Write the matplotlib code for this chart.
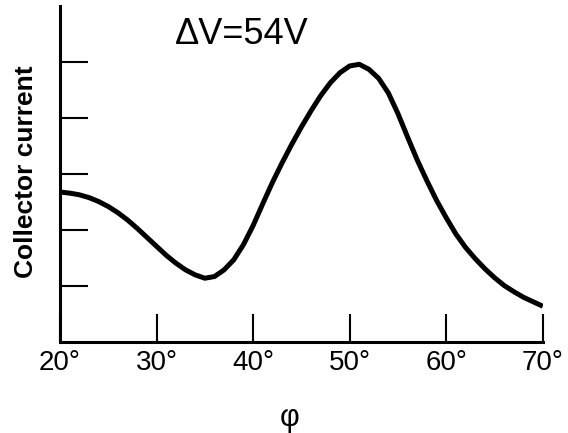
import numpy as np
import matplotlib.pyplot as plt

# angle (deg) and collector current (arb. units)
phi = [20, 21, 22, 23, 24, 25, 26, 27, 28, 29,
       30, 31, 32, 33, 34, 35, 36, 37, 38, 39,
       40, 41, 42, 43, 44, 45, 46, 47, 48, 49,
       50, 51, 52, 53, 54, 55, 56, 57, 58, 59,
       60, 61, 62, 63, 64, 65, 66, 67, 68, 69, 70]
current = [2.68, 2.66, 2.63, 2.58, 2.51, 2.42, 2.31, 2.18, 2.03, 1.87,
           1.71, 1.55, 1.41, 1.29, 1.20, 1.14, 1.17, 1.29, 1.47, 1.74,
           2.08, 2.47, 2.85, 3.20, 3.53, 3.84, 4.13, 4.40, 4.63, 4.81,
           4.93, 4.96, 4.87, 4.71, 4.45, 4.08, 3.66, 3.25, 2.88, 2.53,
           2.22, 1.93, 1.69, 1.49, 1.31, 1.15, 1.01, 0.90, 0.80, 0.72, 0.64]

xticks = [20, 30, 40, 50, 60, 70]
xticklabels = ['20°', '30°', '40°', '50°', '60°', '70°']
yticks = [1, 2, 3, 4, 5]

plt.rcParams['font.family'] = ['Liberation Sans', 'DejaVu Sans']

fig = plt.figure(figsize=(5.68, 4.33), dpi=100)
ax = fig.add_axes([0.1056, 0.21, 0.850, 0.776])

ax.plot(phi, current, color='black', lw=3.6,
        solid_capstyle='butt', solid_joinstyle='round')

ax.set_xlim(20, 70)
ax.set_ylim(0, 6)
ax.set_xticks(xticks)
ax.set_xticklabels(xticklabels, fontsize=20)
ax.set_yticks(yticks)
ax.set_yticklabels([])
ax.tick_params(axis='both', direction='in', length=20, width=1.5, color='black')
ax.tick_params(axis='x', pad=6)

for s in ['top', 'right']:
    ax.spines[s].set_visible(False)
for s in ['left', 'bottom']:
    ax.spines[s].set_linewidth(2.2)

ax.set_ylabel('Collector current', fontsize=19, fontweight='bold')
ax.yaxis.set_label_coords(-0.045, 0.506)

fig.text(290 / 568, 1 - 418 / 433, 'φ', fontsize=22, ha='center', va='center')
fig.text(175 / 568, 1 - 35 / 433, 'ΔV=54V', fontsize=26, ha='left', va='center')

fig.savefig('out.png', dpi=100)
